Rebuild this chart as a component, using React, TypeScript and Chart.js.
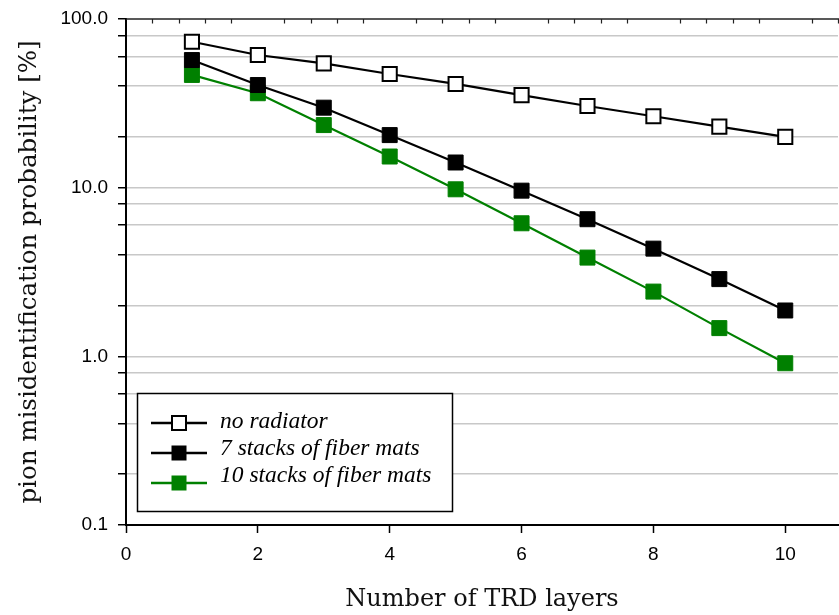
import React, { useEffect, useRef } from "react";
import { Chart, registerables } from "chart.js";

Chart.register(...registerables);

// Number of TRD layers
const layers = [1, 2, 3, 4, 5, 6, 7, 8, 9, 10];

// Pion misidentification probability [%] for each radiator setup
const noRadiator = [73.3, 61.2, 54.6, 47.2, 41.2, 35.4, 30.5, 26.5, 23.0, 20.0];
const fiberMats7 = [57.1, 40.6, 29.8, 20.5, 14.1, 9.6, 6.5, 4.35, 2.87, 1.87];
const fiberMats10 = [46.6, 36.3, 23.5, 15.3, 9.78, 6.15, 3.85, 2.42, 1.47, 0.91];

const seriesLabels = ["no radiator", "7 stacks of fiber mats", "10 stacks of fiber mats"];

const xTicks = [0, 2, 4, 6, 8, 10];
const xMin = 0;
const xMax = 10.8;
const yTicks = [0.1, 0.2, 0.4, 0.6, 0.8, 1, 2, 4, 6, 8, 10, 20, 40, 60, 80, 100];
const yLabelled = [0.1, 1, 10, 100];

const xTitle = "Number of TRD layers";
const yTitle = "pion misidentification probability [%]";

const GREEN = "#008000";

// minor ticks along the top frame, every 0.4 between the major steps of 2
const topMinorTicks: number[] = [];
for (let i = 1; i * 0.4 <= xMax + 1e-9; i++) {
  if (i % 5 !== 0) topMinorTicks.push(+(i * 0.4).toFixed(1));
}

const topFrame = {
  id: "topFrame",
  afterDraw(chart: any) {
    const { ctx, chartArea } = chart;
    const xs = chart.scales.x;
    ctx.save();
    ctx.strokeStyle = "#222";
    ctx.lineWidth = 1.5;
    ctx.beginPath();
    ctx.moveTo(chartArea.left, chartArea.top);
    ctx.lineTo(chartArea.right + 1, chartArea.top);
    ctx.stroke();
    ctx.lineWidth = 1.2;
    ctx.beginPath();
    for (const v of topMinorTicks) {
      const px = Math.round(xs.getPixelForValue(v)) + 0.5;
      ctx.moveTo(px, chartArea.top);
      ctx.lineTo(px, chartArea.top + 4.5);
    }
    ctx.stroke();
    ctx.restore();
  },
};

const boxedLegend = {
  id: "boxedLegend",
  afterDraw(chart: any) {
    const { ctx, chartArea } = chart;
    const bx = chartArea.left + 11;
    const by = chartArea.bottom - 132;
    const bw = 315;
    const bh = 118;
    ctx.save();
    ctx.fillStyle = "#ffffff";
    ctx.fillRect(bx, by, bw, bh);
    ctx.lineWidth = 1.5;
    ctx.strokeStyle = "#000";
    ctx.strokeRect(bx + 0.5, by + 0.5, bw, bh);
    chart.data.datasets.forEach((ds: any, i: number) => {
      const my = by + 30 + i * 30;
      const ty = by + 35 + i * 27;
      const cx = bx + 42;
      ctx.beginPath();
      ctx.moveTo(bx + 14, my);
      ctx.lineTo(bx + 70, my);
      ctx.lineWidth = 2.5;
      ctx.strokeStyle = ds.borderColor;
      ctx.stroke();
      const s = 14;
      ctx.fillStyle = ds.pointBackgroundColor;
      ctx.fillRect(cx - s / 2, my - s / 2, s, s);
      ctx.lineWidth = ds.pointBorderWidth;
      ctx.strokeStyle = ds.pointBorderColor;
      ctx.strokeRect(cx - s / 2, my - s / 2, s, s);
      ctx.font = "italic 23.5px 'Liberation Serif'";
      ctx.fillStyle = "#000";
      ctx.textBaseline = "alphabetic";
      ctx.textAlign = "left";
      ctx.fillText(ds.label, bx + 83, ty);
    });
    ctx.restore();
  },
};

export default function App() {
  const canvasRef = useRef<HTMLCanvasElement | null>(null);

  useEffect(() => {
    const canvas = canvasRef.current;
    if (!canvas) return;
    const toPoints = (ys: number[]) => layers.map((x, i) => ({ x, y: ys[i] }));

    const chart = new Chart(canvas, {
      type: "line",
      data: {
        datasets: [
          {
            label: seriesLabels[0],
            data: toPoints(noRadiator),
            borderColor: "#000",
            borderWidth: 2.2,
            pointStyle: "rect",
            pointRadius: 10,
            pointBorderWidth: 2,
            pointBorderColor: "#000",
            pointBackgroundColor: "#fff",
            order: 0,
          },
          {
            label: seriesLabels[1],
            data: toPoints(fiberMats7),
            borderColor: "#000",
            borderWidth: 2.2,
            pointStyle: "rect",
            pointRadius: 10.6,
            pointBorderWidth: 1,
            pointBorderColor: "#000",
            pointBackgroundColor: "#000",
            order: 1,
          },
          {
            label: seriesLabels[2],
            data: toPoints(fiberMats10),
            borderColor: GREEN,
            borderWidth: 2.2,
            pointStyle: "rect",
            pointRadius: 10.6,
            pointBorderWidth: 1,
            pointBorderColor: GREEN,
            pointBackgroundColor: GREEN,
            order: 2,
          },
        ],
      },
      options: {
        responsive: false,
        animation: false,
        events: [],
        layout: { autoPadding: false, padding: { top: 19, right: 1, left: 0, bottom: 0 } },
        plugins: {
          legend: { display: false },
          tooltip: { enabled: false },
        },
        scales: {
          x: {
            type: "linear",
            min: xMin,
            max: xMax,
            afterBuildTicks: (scale: any) => {
              scale.ticks = xTicks.map((value) => ({ value }));
            },
            afterFit: (scale: any) => {
              scale.height = 90;
              scale.paddingLeft = 0;
              scale.paddingRight = 0;
            },
            ticks: {
              autoSkip: false,
              maxRotation: 0,
              padding: 10,
              color: "#000",
              font: { family: "'Liberation Sans', Arial, sans-serif", size: 19 },
              callback: (v: any) => String(v),
            },
            grid: {
              drawOnChartArea: false,
              drawTicks: true,
              tickLength: 8,
              tickColor: "#000",
              tickWidth: 1.5,
            },
            border: { display: true, color: "#000", width: 2 },
            title: {
              display: true,
              text: xTitle,
              color: "#111",
              font: { family: "'DejaVu Serif', serif", size: 24, weight: "normal" },
              padding: { top: 0, bottom: 1 },
            },
          },
          y: {
            type: "logarithmic",
            min: 0.1,
            max: 100,
            afterBuildTicks: (scale: any) => {
              scale.ticks = yTicks.map((value) => ({ value }));
            },
            afterFit: (scale: any) => {
              scale.width = 126;
              scale.paddingTop = 0;
              scale.paddingBottom = 0;
            },
            ticks: {
              autoSkip: false,
              padding: 10,
              color: "#000",
              font: { family: "'Liberation Sans', Arial, sans-serif", size: 19 },
              callback: (v: any) => {
                const n = Number(v);
                if (!yLabelled.some((d) => Math.abs(d - n) < 1e-9)) return "";
                return n < 1 ? n.toString() : n.toFixed(1);
              },
            },
            grid: {
              drawOnChartArea: true,
              drawTicks: true,
              tickLength: 8,
              tickColor: "#000",
              tickWidth: 1.5,
              lineWidth: 1.5,
              color: (ctx: any) => {
                const v = ctx.tick ? ctx.tick.value : null;
                return v === 100 || v === 0.1 ? "rgba(0,0,0,0)" : "#c8c8c8";
              },
            },
            border: { display: true, color: "#000", width: 2 },
            title: {
              display: true,
              text: yTitle,
              color: "#111",
              font: { family: "'DejaVu Serif', serif", size: 24.5, weight: "normal" },
              padding: { top: 15, bottom: 0 },
            },
          },
        },
      },
      plugins: [topFrame, boxedLegend],
    } as any);

    return () => chart.destroy();
  }, []);

  return (
    <div style={{ position: "absolute", left: 0, top: 0, width: 839, height: 615, background: "#fff" }}>
      <canvas ref={canvasRef} width={839} height={615} style={{ display: "block" }} />
    </div>
  );
}
